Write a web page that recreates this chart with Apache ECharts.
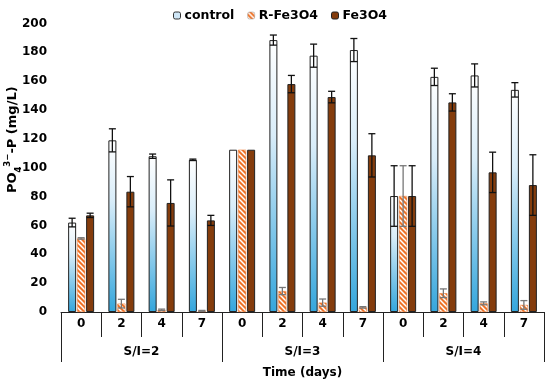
<!DOCTYPE html>
<html>
<head>
<meta charset="utf-8">
<script src="https://cdn.jsdelivr.net/npm/echarts@6/dist/echarts.min.js"></script>
<style>html,body{margin:0;padding:0;background:#fff}#c{width:550px;height:387px}</style>
</head>
<body>
<div id="c"></div>
<script>
const days = ['0','2','4','7','0','2','4','7','0','2','4','7'];
const groups = ['S/I=2','S/I=3','S/I=4'];
const yTicks = [0,20,40,60,80,100,120,140,160,180,200];
const control    = [62, 119, 108, 105.5, 112.5, 188.5, 177.7, 181.6, 80.4, 163, 164, 154];
const controlErr = [3, 8, 1.5, 0.5, 0, 3.5, 8, 8, 21, 6, 8, 5];
const rFe        = [51, 5.8, 1.5, 0.8, 112.5, 14.5, 6.5, 3.2, 80.4, 13, 6, 4.9];
const rFeErr     = [0.5, 3, 0.5, 0.3, 0, 2.5, 2.5, 0.5, 21, 3, 1, 3];
const fe         = [67, 83.4, 75.6, 63.5, 112.5, 158, 149, 108.6, 80.4, 145.3, 96.8, 88];
const feErr      = [1.5, 10.5, 16, 3.5, 0, 6, 4, 15, 21, 6, 14, 21];

const FONT = 'DejaVu Sans';

function hatch() {
  const n = 5;
  const c = document.createElement('canvas');
  c.width = n; c.height = n;
  const g = c.getContext('2d');
  g.fillStyle = '#EE7429'; g.fillRect(0,0,n,n);
  g.strokeStyle = '#ffffff'; g.lineWidth = 1.5;
  g.beginPath();
  g.moveTo(-1,-1); g.lineTo(n+1,n+1);
  g.moveTo(-1,n-1); g.lineTo(1,n+1);
  g.moveTo(n-1,-1); g.lineTo(n+1,1);
  g.stroke();
  return c;
}

const ctrlColor = {type:'linear', x:0, y:0, x2:0, y2:1, colorStops:[
  {offset:0, color:'#ffffff'}, {offset:0.35, color:'#d9edf9'}, {offset:1, color:'#34a6dc'}]};
const rColor = {image: hatch(), repeat: 'repeat'};
const feColor = '#843C0C';

function errSeries(vals, errs, offset, color) {
  return {
    type: 'custom',
    xAxisIndex: 0, yAxisIndex: 0,
    z: 10,
    silent: true,
    data: vals.map((v,i) => [i, v, errs[i]]),
    encode: {x:0, y:1},
    renderItem(params, api) {
      const i = api.value(0), v = api.value(1), e = api.value(2);
      if (!e) return null;
      const t = api.coord([i, v + e]);
      const b = api.coord([i, v - e]);
      const x = t[0] + offset;
      const hw = 3.5;
      const st = {stroke: color, lineWidth: 1.3};
      return {type:'group', children:[
        {type:'line', shape:{x1:x, y1:t[1], x2:x, y2:b[1]}, style:st},
        {type:'line', shape:{x1:x-hw, y1:t[1], x2:x+hw, y2:t[1]}, style:st},
        {type:'line', shape:{x1:x-hw, y1:b[1], x2:x+hw, y2:b[1]}, style:st}
      ]};
    }
  };
}

const chart = echarts.init(document.getElementById('c'), null, {renderer:'canvas'});
chart.setOption({
  backgroundColor: '#fff',
  animation: false,
  textStyle: {fontFamily: FONT},
  legend: {
    top: 4, left: 168,
    itemWidth: 7, itemHeight: 7, itemGap: 13,
    textStyle: {fontFamily: FONT, fontWeight:'bold', fontSize: 12.5, color:'#000', padding:[0,0,0,-1]},
    data: [
      {name:'control', itemStyle:{color:'#cfe6f6', borderColor:'#333', borderWidth:1}},
      {name:'R-Fe3O4', itemStyle:{borderColor:'#999', borderWidth:0.5}},
      {name:'Fe3O4', itemStyle:{borderColor:'#222', borderWidth:1}}
    ]
  },
  grid: {left: 61, right: 6, top: 23.5, bottom: 75, containLabel: false, outerBoundsMode: 'none'},
  xAxis: [
    {
      type: 'category', data: days, position: 'bottom',
      axisLine: {show: true, lineStyle: {color:'#222', width:1}},
      axisTick: {show: true, interval: 0, length: 25, lineStyle: {color:'#222', width:1}},
      axisLabel: {interval: 0, margin: 6, fontFamily: FONT, fontWeight:'bold', fontSize: 12, color:'#000'},
      splitLine: {show:false}
    },
    {
      type: 'category', data: groups, position: 'bottom',
      axisLine: {show: false},
      axisTick: {show: true, interval: 0, length: 50, lineStyle: {color:'#222', width:1}},
      axisLabel: {interval: 0, margin: 34, fontFamily: FONT, fontWeight:'bold', fontSize: 12, color:'#000'},
      name: 'Time (days)', nameLocation: 'middle', nameGap: 55, nameMoveOverlap: false,
      nameTextStyle: {fontFamily: FONT, fontWeight:'bold', fontSize: 12, color:'#000'},
      splitLine: {show:false}
    }
  ],
  yAxis: {
    type: 'value', min: yTicks[0], max: yTicks[yTicks.length-1], interval: yTicks[1]-yTicks[0],
    axisLine: {show:false}, axisTick: {show:false}, splitLine: {show:false},
    axisLabel: {margin: 14, fontFamily: FONT, fontWeight:'bold', fontSize: 12, color:'#000'},
    name: '{a|PO}{sub|4}{sup|3−}{a|-P (mg/L)}',
    nameLocation: 'middle', nameGap: 38, nameMoveOverlap: false,
    nameTextStyle: {
      fontFamily: FONT, fontWeight:'bold', fontSize: 13, color:'#000',
      padding: [0, 0, 0, 56],
      rich: {
        a: {fontFamily: FONT, fontWeight:'bold', fontSize: 13, color:'#000', lineHeight: 20},
        sub: {fontFamily: FONT, fontWeight:'bold', fontSize: 8.5, color:'#000', verticalAlign:'bottom', lineHeight: 9},
        sup: {fontFamily: FONT, fontWeight:'bold', fontSize: 8.5, color:'#000', verticalAlign:'top', lineHeight: 9}
      }
    }
  },
  series: [
    {name:'control', type:'bar', data: control, barWidth: 8, barGap: '12.5%',
     itemStyle:{color: ctrlColor, borderColor:'#222', borderWidth:1}},
    {name:'R-Fe3O4', type:'bar', data: rFe, barWidth: 8, barGap: '12.5%',
     itemStyle:{color: rColor, borderColor:'#EE7429', borderWidth:0.5}},
    {name:'Fe3O4', type:'bar', data: fe, barWidth: 8, barGap: '12.5%',
     itemStyle:{color: feColor, borderColor:'#222', borderWidth:1}},
    errSeries(control, controlErr, -9, '#111'),
    errSeries(rFe, rFeErr, 0, '#777'),
    errSeries(fe, feErr, 9, '#111')
  ]
});
</script>
</body>
</html>
